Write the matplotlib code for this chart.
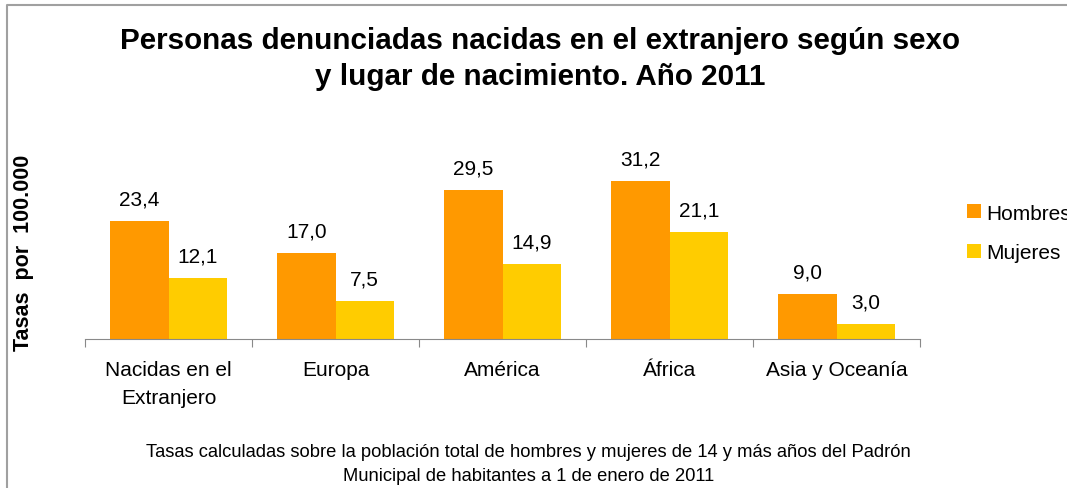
import matplotlib.pyplot as plt
import numpy as np

categorias = ["Nacidas en el\nExtranjero", "Europa", "América", "África", "Asia y Oceanía"]
hombres = [23.4, 17.0, 29.5, 31.2, 9.0]
mujeres = [12.1, 7.5, 14.9, 21.1, 3.0]

plt.rcParams['font.family'] = ['Liberation Sans', 'DejaVu Sans']

fig = plt.figure(figsize=(10.67, 4.89), dpi=100)
ax = fig.add_axes([0.0797, 0.3047, 0.7826, 0.4131])

x = np.arange(len(categorias))
w = 0.35
b1 = ax.bar(x - w / 2, hombres, w, color="#FF9900", label="Hombres")
b2 = ax.bar(x + w / 2, mujeres, w, color="#FFCC00", label="Mujeres")

for barras in (b1, b2):
    for b in barras:
        v = b.get_height()
        ax.annotate(f"{v:.1f}".replace(".", ","), (b.get_x() + b.get_width() / 2, v),
                    xytext=(0, 9), textcoords="offset points",
                    ha="center", va="bottom", fontsize=15)

ax.set_xlim(-0.5, len(categorias) - 0.5)
ax.set_ylim(0, 40)
for s in ("top", "right", "left"):
    ax.spines[s].set_visible(False)
ax.spines["bottom"].set_color("#898989")
ax.set_yticks([])
ax.set_xticks(np.arange(len(categorias) + 1) - 0.5)
ax.set_xticklabels([])
ax.tick_params(axis="x", length=6, color="#898989")
ax.set_xticks(x, minor=True)
ax.set_xticklabels(categorias, minor=True, fontsize=15)
ax.tick_params(axis="x", which="minor", length=0, pad=15)
for t in ax.get_xticklabels(minor=True):
    t.set_linespacing(1.6)

fig.text(0.022, 0.482, "Tasas  por  100.000", rotation=90, ha="center", va="center",
         fontsize=15.5, fontweight="bold")

fig.legend(loc="upper left", bbox_to_anchor=(0.889, 0.62), frameon=False,
           fontsize=15, handlelength=0.65, handleheight=0.65, handletextpad=0.25,
           labelspacing=1.0)

fig.text(0.506, 0.945, "Personas denunciadas nacidas en el extranjero según sexo\ny lugar de nacimiento. Año 2011",
         ha="center", va="top", fontsize=21.3, fontweight="bold", linespacing=1.35)

fig.text(0.495, 0.092, "Tasas calculadas sobre la población total de hombres y mujeres de 14 y más años del Padrón\nMunicipal de habitantes a 1 de enero de 2011",
         ha="center", va="top", fontsize=13.2, linespacing=1.55)

fig.add_artist(plt.Line2D([0.0066, 0.0066, 1.0], [0.0, 0.988, 0.988],
                          transform=fig.transFigure, color="#a0a0a0", lw=1.5))

fig.savefig("out.png", dpi=100)
